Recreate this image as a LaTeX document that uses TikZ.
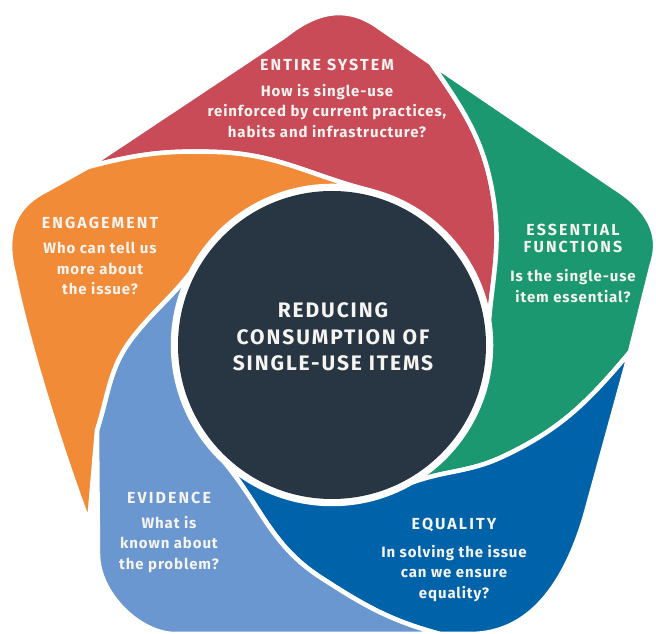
\documentclass[tikz,border=0pt]{standalone}
\usepackage{fontspec}
\setmainfont{Fira Sans}
\newfontfamily\headfont{Fira Sans}[LetterSpace=13]
\newfontfamily\bodyfont{Fira Sans}[LetterSpace=6]
\newfontfamily\hubfont{Fira Sans}[LetterSpace=9]
\usepackage{xcolor}
\usetikzlibrary{positioning,calc}

\definecolor{sysred}{RGB}{201,75,87}
\definecolor{funcgreen}{RGB}{27,152,112}
\definecolor{eqblue}{RGB}{0,99,170}
\definecolor{evblue}{RGB}{106,151,207}
\definecolor{engorange}{RGB}{241,139,56}
\definecolor{hubdark}{RGB}{39,54,66}
\definecolor{txtwhite}{RGB}{246,244,240}

\begin{document}
\begin{tikzpicture}[x=1pt,y=1pt,
                    petal/.style={draw=white,line width=4.5pt,line join=round},
                    head/.style={text=txtwhite,inner sep=0pt,align=center,
                                 font=\headfont\bfseries\fontsize{16}{17}\selectfont},
                    body/.style={text=txtwhite,inner sep=0pt,align=center,
                                 font=\bodyfont\bfseries\fontsize{15}{20.5}\selectfont}]
            \useasboundingbox (0,0) rectangle (656,634);

            %Points
                \coordinate (c) at (332,289);
                \coordinate (o1) at (88,467);
                \coordinate (o2) at (431,571);
                \coordinate (o3) at (630,282);
                \coordinate (o4) at (440,0);
                \coordinate (o5) at (89,111);
                \coordinate (p5) at (97,204);
                \coordinate (m1) at (217,482);
                \coordinate (m2) at (494,432);
                \coordinate (m3) at (502,177);
                \coordinate (m4) at (320,57);
                \coordinate (m5) at (133,297);
                \coordinate (t1) at ($(c)+(76:159)$);
                \coordinate (t2) at ($(c)+(9:159)$);
                \coordinate (t3) at ($(c)+(-60:159)$);
                \coordinate (t4) at ($(c)+(-133:159)$);
                \coordinate (t5) at ($(c)+(153:159)$);

            %Petals
                \draw[petal,fill=sysred] (o1) -- (285,598) .. controls (320,626) and (350,628) .. (380,606) -- (o2)
                    to[out=-55,in=98] (m2) to[out=-82,in=85] (t2)
                    arc[start angle=9,end angle=76,radius=159]
                    to[out=166,in=-2] (m1) to[out=178,in=15] (o1) -- cycle;
                \draw[petal,fill=funcgreen] (o2) -- (615,446) .. controls (648,425) and (662,400) .. (652,370) -- (o3)
                    to[out=-130,in=25] (m3) to[out=205,in=20] (t3)
                    arc[start angle=-60,end angle=9,radius=159]
                    to[out=85,in=-82] (m2) to[out=98,in=-55] (o2) -- cycle;
                \draw[petal,fill=eqblue] (o3) -- (585,118) .. controls (565,50) and (530,0) .. (470,0) -- (o4)
                    to[out=165,in=-33] (m4) to[out=147,in=-50] (t4)
                    arc[start angle=-133,end angle=-60,radius=159]
                    to[out=20,in=205] (m3) to[out=25,in=-130] (o3) -- cycle;
                \draw[petal,fill=evblue] (o4) -- (175,0) .. controls (140,0) and (98,40) .. (98,80) -- (p5)
                    to[out=72,in=232] (m5) to[out=52,in=232] (t5)
                    arc[start angle=153,end angle=227,radius=159]
                    to[out=-50,in=147] (m4) to[out=-33,in=165] (o4) -- cycle;
                \draw[petal,fill=engorange] (o5) .. controls (70,160) and (30,280) .. (14,360)
                    .. controls (5,395) and (10,425) .. (45,443) -- (o1)
                    to[out=15,in=178] (m1) to[out=-2,in=166] (t1)
                    arc[start angle=76,end angle=153,radius=159]
                    to[out=232,in=52] (m5) to[out=232,in=72] (p5) -- cycle;
                \fill[hubdark] (c) circle[radius=154];

            %Nodes
                \node[text=txtwhite,align=center,font=\hubfont\bfseries\fontsize{21}{26.5}\selectfont] (hub) at (333,297)
                    {REDUCING\\CONSUMPTION OF\\SINGLE-USE ITEMS};
                \node[head] (sysHead) at (327,569) {ENTIRE SYSTEM};
                \node[body,below=13pt of sysHead] (sysText)
                    {How is single-use\\reinforced by current practices,\\habits and infrastructure?};
                \node[head] (funcHead) at (573,396) {ESSENTIAL\\FUNCTIONS};
                \node[body,below=17pt of funcHead] (funcText) {Is the single-use\\item essential?};
                \node[head] (eqHead) at (454,109) {EQUALITY};
                \node[body,below=13pt of eqHead] (eqText) {In solving the issue\\can we ensure\\equality?};
                \node[head] (evHead) at (169,136) {EVIDENCE};
                \node[body,below=12pt of evHead] (evText) {What is\\known about\\the problem?};
                \node[head] (engHead) at (100,411) {ENGAGEMENT};
                \node[body,below=13pt of engHead] (engText) {Who can tell us\\more about\\the issue?};
            \end{tikzpicture}
\end{document}
